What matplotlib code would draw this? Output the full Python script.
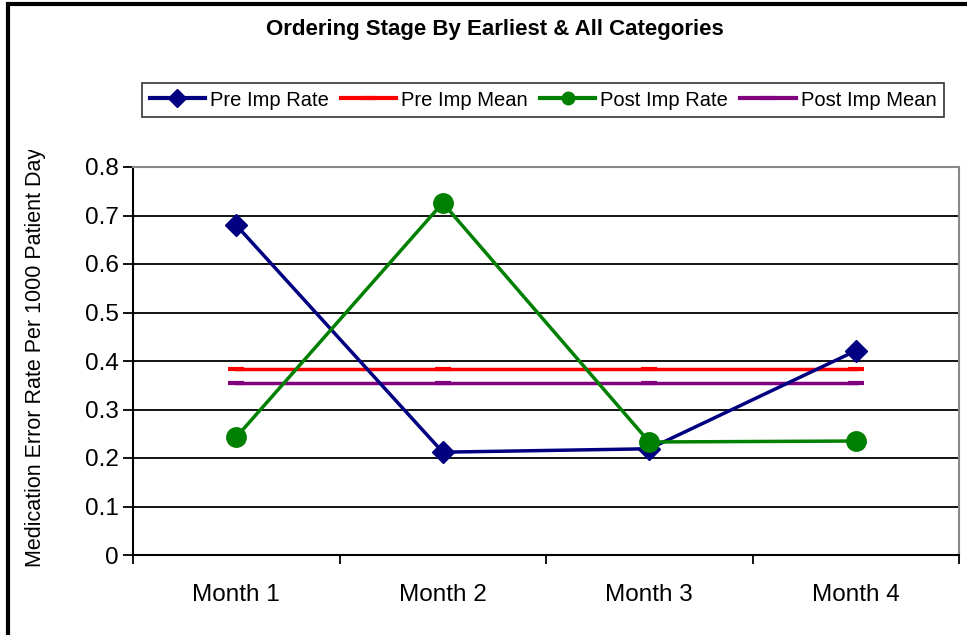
import matplotlib.pyplot as plt
from matplotlib.lines import Line2D
from matplotlib.patches import Rectangle
from matplotlib.transforms import Bbox

months = ["Month 1", "Month 2", "Month 3", "Month 4"]
pre_rate = [0.680, 0.212, 0.219, 0.421]
post_rate = [0.243, 0.726, 0.233, 0.235]
pre_mean = [0.383, 0.383, 0.383, 0.383]
post_mean = [0.354, 0.354, 0.354, 0.354]

plt.rcParams["font.family"] = ["Liberation Sans", "DejaVu Sans"]

fig = plt.figure(figsize=(9.67, 6.35), dpi=100)
W, H = 967, 635
ax = fig.add_axes([133 / W, 1 - 555 / H, (959 - 133) / W, (555 - 167) / H])

x = list(range(len(months)))
ax.plot(x, pre_mean, color="#ff0000", lw=2.5, marker="_", ms=12, mew=3, label="Pre Imp Mean", zorder=3)
ax.plot(x, post_mean, color="#800080", lw=2.5, marker="_", ms=12, mew=3, label="Post Imp Mean", zorder=3)
ax.plot(x, pre_rate, color="#000080", lw=2.5, marker="D", ms=11, label="Pre Imp Rate", zorder=4)
ax.plot(x, post_rate, color="#008000", lw=2.5, marker="o", ms=14, label="Post Imp Rate", zorder=4)

ax.set_xlim(-0.5, 3.5)
ax.set_ylim(0, 0.8)
ax.set_yticks([i / 10 for i in range(9)])
ax.set_yticklabels(["0"] + [f"0.{i}" for i in range(1, 9)])
ax.set_xticks(x)
ax.set_xticklabels(months)
ax.set_xticks([-0.5, 0.5, 1.5, 2.5, 3.5], minor=True)
ax.tick_params(axis="x", which="major", length=0, pad=21, labelsize=17.5)
ax.tick_params(axis="x", which="minor", length=6.5, direction="out", width=1.3)
ax.tick_params(axis="y", length=7, direction="out", width=1.3, labelsize=17.5, pad=3.5)
ax.yaxis.grid(True, color="black", lw=1.3)
ax.set_axisbelow(True)
for s in ["top", "right"]:
    ax.spines[s].set_color("#888888")
    ax.spines[s].set_linewidth(1.5)
for s in ["left", "bottom"]:
    ax.spines[s].set_linewidth(1.5)

# y label is cut off at the top of the chart
ylab = fig.text(36 / W, 1 - 567 / H, "Medication Error Rate Per 1000 Patient Days",
                rotation=90, ha="center", va="bottom", fontsize=15.5)
ylab.set_clip_box(Bbox.from_extents(0, 0, W, H - 150))
ylab.set_clip_on(True)

fig.text(495 / W, 1 - 29 / H, "Ordering Stage By Earliest & All Categories",
         ha="center", va="center", fontsize=16, fontweight="bold")

# outer chart frame
fig.add_artist(Rectangle((8 / W, -0.1), 1.2, 1 - 4 / H + 0.1, transform=fig.transFigure,
                         fill=False, edgecolor="black", lw=3))

handles = [
    Line2D([], [], color="#000080", lw=3, marker="D", ms=9),
    Line2D([], [], color="#ff0000", lw=3, marker="_", ms=10, mew=3),
    Line2D([], [], color="#008000", lw=3, marker="o", ms=9),
    Line2D([], [], color="#800080", lw=3, marker="_", ms=10, mew=3),
]
labels = ["Pre Imp Rate", "Pre Imp Mean", "Post Imp Rate", "Post Imp Mean"]
leg = fig.legend(handles, labels, loc="center", bbox_to_anchor=(543 / W, 1 - 100 / H), ncol=4,
                 fontsize=14.5, frameon=True, fancybox=False, edgecolor="black",
                 handlelength=2.75, columnspacing=0.6, handletextpad=0.25,
                 borderpad=0.35, borderaxespad=0)
leg.get_frame().set_linewidth(1.2)

plt.savefig("out.png", dpi=100)
